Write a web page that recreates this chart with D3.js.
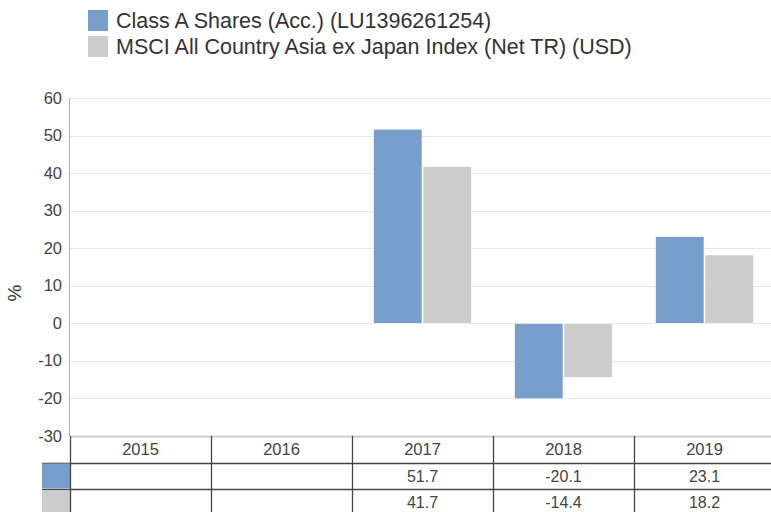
<!DOCTYPE html>
<html><head><meta charset="utf-8">
<script src="https://cdn.jsdelivr.net/npm/d3@7"></script>
<style>body{margin:0;background:#fff;overflow:hidden}svg{display:block;font-family:"Liberation Sans",Arial,sans-serif}</style>
</head><body><svg id="c" width="771" height="512"></svg>
<script>
const years = ["2015","2016","2017","2018","2019"];
const seriesNames = ["Class A Shares (Acc.) (LU1396261254)","MSCI All Country Asia ex Japan Index (Net TR) (USD)"];
const fundValues = [null,null,51.7,-20.1,23.1];
const indexValues = [null,null,41.7,-14.4,18.2];
const yTicks = [-30,-20,-10,0,10,20,30,40,50,60];
const colors = ["#789fcc","#cccccc"];

const svg = d3.select("#c");
const pLeft = 70, pRight = 775, pTop = 98, pBottom = 436;
const x = d3.scaleBand().domain(years).range([pLeft,pRight]).paddingInner(0).paddingOuter(0);
const y = d3.scaleLinear().domain([-30,60]).range([pBottom,pTop]);
const xs = d3.scaleBand().domain([0,1]).range([21,120]);
const fmt = v => d3.format(".1f")(v).replace("\u2212","-");

// grid
svg.append("g").selectAll("line").data(yTicks.filter(t=>t>-30)).join("line")
  .attr("x1",pLeft).attr("x2",771).attr("y1",d=>Math.round(y(d))+0.5).attr("y2",d=>Math.round(y(d))+0.5)
  .attr("stroke","#e6e6e6").attr("stroke-width",1);
// y axis line
svg.append("line").attr("x1",pLeft-0.5).attr("x2",pLeft-0.5).attr("y1",pTop).attr("y2",pBottom).attr("stroke","#b0b0b0");
// tick labels
svg.append("g").selectAll("text").data(yTicks).join("text")
  .attr("x",62).attr("y",d=>y(d)+5.5).attr("text-anchor","end")
  .attr("font-size",16.5).attr("fill","#444").text(d=>String(d));
// axis title
svg.append("text").attr("transform","translate(21,293) rotate(-90)")
  .attr("text-anchor","middle").attr("font-size",19).attr("fill","#333").text("%");

// bars
const data = [fundValues,indexValues];
data.forEach((vals,si)=>{
  svg.append("g").selectAll("rect").data(years.map((yr,i)=>({yr,v:vals[i]})).filter(d=>d.v!=null)).join("rect")
    .attr("x",d=>x(d.yr)+xs(si)+0.5).attr("width",xs.bandwidth()-1)
    .attr("y",d=>y(Math.max(0,d.v))).attr("height",d=>Math.abs(y(d.v)-y(0)))
    .attr("fill",colors[si]).attr("stroke","#ffffff").attr("stroke-width",0.6);
});

// table
const rowH = 26.5;
const t0 = pBottom;
svg.append("line").attr("x1",pLeft).attr("x2",771).attr("y1",t0+0.5).attr("y2",t0+0.5).attr("stroke","#cccccc").attr("stroke-width",2);
[1,2].forEach(r=>{
  svg.append("line").attr("x1",42).attr("x2",771).attr("y1",Math.round(t0+rowH*r)+0.5).attr("y2",Math.round(t0+rowH*r)+0.5)
    .attr("stroke","#444").attr("stroke-width",1.3);
});
// swatches
colors.forEach((c,i)=>{
  svg.append("rect").attr("x",42).attr("y",t0+rowH*(i+1)+1).attr("width",28).attr("height",rowH-1.5).attr("fill",c);
});
// vertical lines
svg.append("g").selectAll("line").data(years).join("line")
  .attr("x1",d=>Math.round(x(d))+0.5).attr("x2",d=>Math.round(x(d))+0.5)
  .attr("y1",t0).attr("y2",512).attr("stroke","#444").attr("stroke-width",1.3);
// header text
svg.append("g").selectAll("text").data(years).join("text")
  .attr("x",d=>x(d)+x.bandwidth()/2).attr("y",t0+rowH/2+6).attr("text-anchor","middle")
  .attr("font-size",16.5).attr("fill","#444").text(d=>d);
data.forEach((vals,si)=>{
  svg.append("g").selectAll("text").data(years.map((yr,i)=>({yr,v:vals[i]})).filter(d=>d.v!=null)).join("text")
    .attr("x",d=>x(d.yr)+x.bandwidth()/2).attr("y",t0+rowH*(si+1)+rowH/2+6).attr("text-anchor","middle")
    .attr("font-size",16).attr("fill","#444").text(d=>fmt(d.v));
});

// legend
seriesNames.forEach((n,i)=>{
  svg.append("rect").attr("x",88).attr("y",10+i*26).attr("width",20).attr("height",21).attr("fill",colors[i]);
  svg.append("text").attr("x",116).attr("y",28+i*26).attr("font-size",21.5).attr("fill","#333").text(n);
});
</script></body></html>
